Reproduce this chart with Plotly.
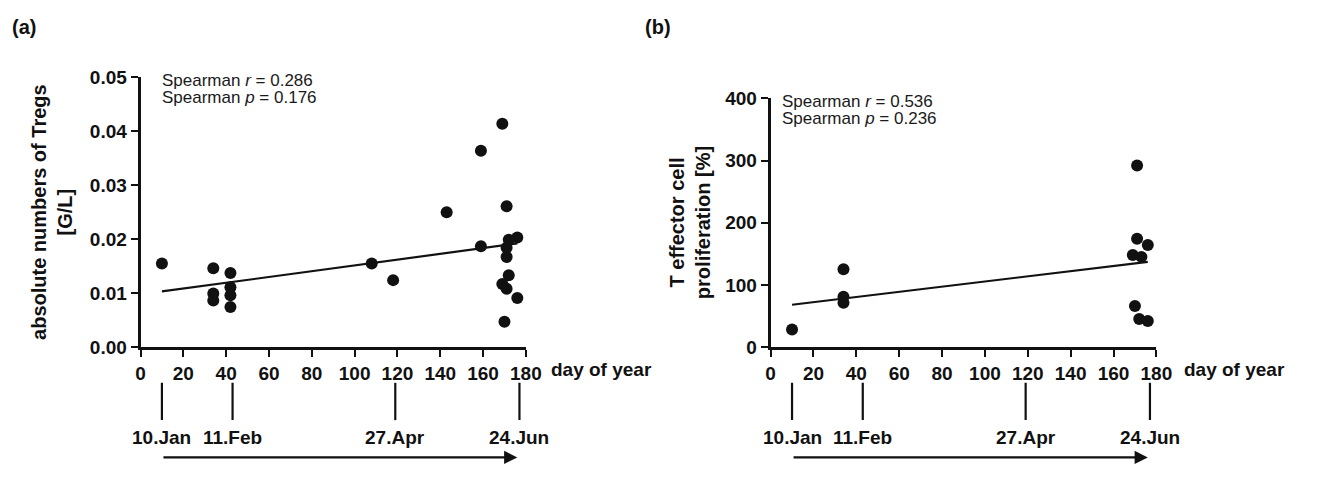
import plotly.graph_objects as go

W, H = 1319, 477

# ---------------- data ----------------
# panel (a): absolute numbers of Tregs [G/L] vs day of year
a_day = [10, 34, 34, 34, 42, 42, 42, 42, 108, 118, 143, 159, 159, 169, 171, 172, 171, 171, 172, 169, 171, 176, 176, 170]
a_val = [0.0155, 0.0146, 0.0099, 0.0086, 0.0137, 0.0111, 0.0096, 0.0074, 0.0155, 0.0124, 0.0250, 0.0364, 0.0187,
         0.0414, 0.0261, 0.0199, 0.0184, 0.0167, 0.0133, 0.0117, 0.0108, 0.0203, 0.0091, 0.0047]
a_fit_day = [10, 176]
a_fit_val = [0.0103, 0.0192]

# panel (b): T effector cell proliferation [%] vs day of year
b_day = [10, 34, 34, 34, 171, 171, 176, 169, 173, 170, 172, 176]
b_val = [28, 125, 81, 71, 292, 174, 164, 148, 145, 66, 45, 42]
b_fit_day = [10, 176]
b_fit_val = [68, 137]

x_ticks = [0, 20, 40, 60, 80, 100, 120, 140, 160, 180]
a_yticks = [0.00, 0.01, 0.02, 0.03, 0.04, 0.05]
b_yticks = [0, 100, 200, 300, 400]

date_labels = ["10.Jan", "11.Feb", "27.Apr", "24.Jun"]
date_days = [10, 43, 119, 177]
arrow_days = [10, 176]

stats_a = ["Spearman <i>r</i> = 0.286", "Spearman <i>p</i> = 0.176"]
stats_b = ["Spearman <i>r</i> = 0.536", "Spearman <i>p</i> = 0.236"]

# ---------------- layout helpers ----------------
def px_x(p):
    return p / W

def px_y(p):
    return 1 - p / H

FONT = "Liberation Sans, Arial, sans-serif"
BLACK = "#111111"
FS = 19

fig = go.Figure()

for d, v, xa, ya in [(a_day, a_val, "x", "y"), (b_day, b_val, "x2", "y2")]:
    fig.add_trace(go.Scatter(x=d, y=v, mode="markers", xaxis=xa, yaxis=ya,
                             marker=dict(size=12, color=BLACK), cliponaxis=False,
                             showlegend=False, hoverinfo="skip"))

for d, v, xa, ya in [(a_fit_day, a_fit_val, "x", "y"), (b_fit_day, b_fit_val, "x2", "y2")]:
    fig.add_trace(go.Scatter(x=d, y=v, mode="lines", xaxis=xa, yaxis=ya,
                             line=dict(color=BLACK, width=2.2), cliponaxis=False,
                             showlegend=False, hoverinfo="skip"))

tickfont = dict(family=FONT, size=FS, color=BLACK, weight="bold")
common_x = dict(range=[0, 180], tickvals=x_ticks, showline=True, linewidth=2.8, linecolor=BLACK,
                ticks="outside", ticklen=7, tickwidth=2.2, tickcolor=BLACK, showgrid=False,
                zeroline=False, tickfont=tickfont, fixedrange=True)
common_y = dict(showline=True, linewidth=2.8, linecolor=BLACK, ticks="outside", ticklen=7,
                tickwidth=2.2, tickcolor=BLACK, showgrid=False, zeroline=False,
                tickfont=tickfont, fixedrange=True)

fig.update_layout(
    width=W, height=H,
    margin=dict(l=0, r=0, t=0, b=0),
    paper_bgcolor="white", plot_bgcolor="white",
    xaxis=dict(domain=[px_x(137.7), px_x(529.3)], anchor="y", **common_x),
    yaxis=dict(domain=[px_y(352.5), px_y(70.5)], anchor="x", range=[0, 0.05],
               tickvals=a_yticks, tickformat=".2f", **common_y),
    xaxis2=dict(domain=[px_x(778), px_x(1170)], anchor="y2", **common_x),
    yaxis2=dict(domain=[px_y(352.5), px_y(92.5)], anchor="x2", range=[0, 400],
                tickvals=b_yticks, **common_y),
)

ann = []
# panel letters
ann.append(dict(text="<b>(a)</b>", x=px_x(5), y=px_y(18), xref="paper", yref="paper",
                xanchor="left", yanchor="middle", showarrow=False,
                font=dict(family=FONT, size=20, color=BLACK)))
ann.append(dict(text="<b>(b)</b>", x=px_x(648), y=px_y(18), xref="paper", yref="paper",
                xanchor="left", yanchor="middle", showarrow=False,
                font=dict(family=FONT, size=20, color=BLACK)))

# y-axis titles
ann.append(dict(text="<b>absolute numbers of Tregs<br>[G/L]</b>", x=px_x(47), y=px_y(211),
                xref="paper", yref="paper", textangle=-90, showarrow=False,
                xanchor="center", yanchor="middle",
                font=dict(family=FONT, size=20, color=BLACK)))
ann.append(dict(text="<b>T effector cell<br>proliferation [%]</b>", x=px_x(696), y=px_y(222),
                xref="paper", yref="paper", textangle=-90, showarrow=False,
                xanchor="center", yanchor="middle",
                font=dict(family=FONT, size=20, color=BLACK)))

# "day of year"
for xp in (553, 1196):
    ann.append(dict(text="<b>day of year</b>", x=px_x(xp), y=px_y(376), xref="paper", yref="paper",
                    xanchor="left", yanchor="middle", showarrow=False,
                    font=dict(family=FONT, size=FS, color=BLACK)))

# Spearman statistics
for lines, xp, yp in [(stats_a, 158, 74), (stats_b, 788, 96)]:
    for i, t in enumerate(lines):
        ann.append(dict(text=t, x=px_x(xp), y=px_y(yp + 18 * i), xref="paper", yref="paper",
                        xanchor="left", yanchor="middle", showarrow=False,
                        font=dict(family=FONT, size=17, color="#1a1a1a")))

shapes = []
for xa in ("x", "x2"):
    for lab, d in zip(date_labels, date_days):
        shapes.append(dict(type="line", xref=xa, yref="paper", x0=d, x1=d,
                           y0=px_y(429), y1=px_y(390), line=dict(color=BLACK, width=2.2)))
        ann.append(dict(text="<b>" + lab + "</b>", x=d, y=px_y(447), xref=xa, yref="paper",
                        xanchor="center", yanchor="middle", showarrow=False,
                        font=dict(family=FONT, size=FS, color=BLACK)))
    # time arrow
    ann.append(dict(text="", x=arrow_days[1], y=px_y(468), xref=xa, yref="paper",
                    ax=arrow_days[0], ay=0, axref=xa, ayref="pixel",
                    showarrow=True, arrowhead=2, arrowsize=1.2, arrowwidth=2.2, arrowcolor=BLACK,
                    standoff=0, startstandoff=0))

fig.update_layout(annotations=ann, shapes=shapes)

fig.write_html("out.html")
